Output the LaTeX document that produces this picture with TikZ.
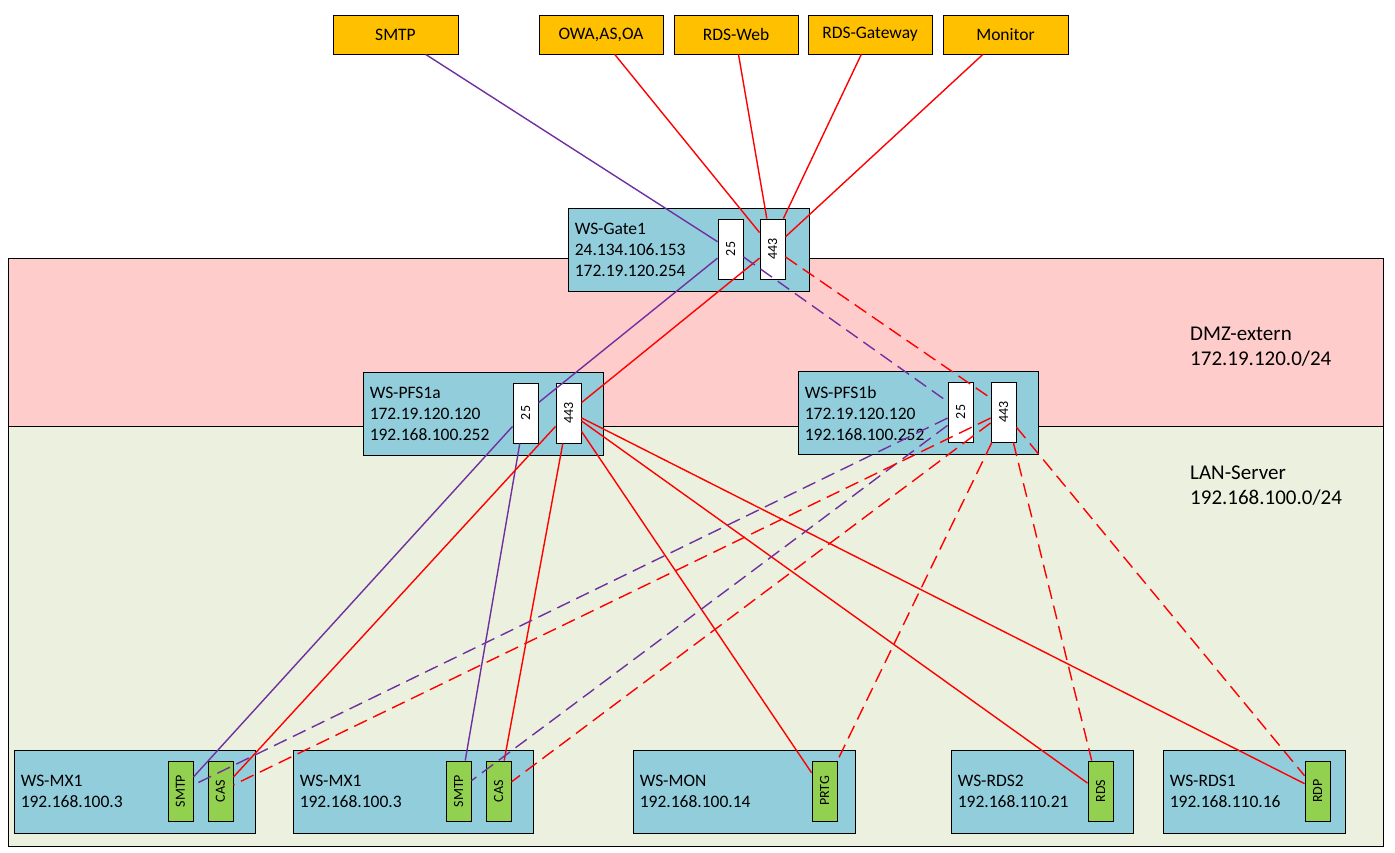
\documentclass[tikz,border=0pt]{standalone}
\usepackage{fontspec}
\setmainfont{Carlito}
\usetikzlibrary{calc}
\definecolor{dmzpink}{RGB}{255,204,204}
\definecolor{langreen}{RGB}{235,241,222}
\definecolor{hostblue}{RGB}{146,205,220}
\definecolor{svcgreen}{RGB}{146,208,80}
\definecolor{extorange}{RGB}{255,192,0}
\definecolor{linkpurple}{RGB}{112,48,160}
\definecolor{linkred}{RGB}{255,0,0}

\begin{document}
\begin{tikzpicture}[x=1pt,y=-1pt,
		host/.style={draw=black, line width=0.9pt, fill=hostblue, minimum height=83pt, inner sep=0pt},
		hostlbl/.style={anchor=west, align=left, inner xsep=7pt, inner ysep=0pt, font=\fontsize{17.5}{21}\selectfont},
		port/.style={draw=black, line width=0.9pt, fill=white, minimum width=25pt, minimum height=60pt, inner sep=0pt, font=\fontsize{14}{14}\selectfont},
		svc/.style={port, fill=svcgreen},
		ext/.style={draw=black, line width=0.9pt, fill=extorange, minimum width=125pt, minimum height=39pt, inner sep=0pt, font=\fontsize{17.5}{21}\selectfont},
		zonelbl/.style={anchor=west, align=left, inner sep=0pt, font=\fontsize{21}{25}\selectfont},
		mail/.style={draw=linkpurple, line width=1.4pt},
		web/.style={draw=linkred, line width=1.4pt},
		standby/.style={dash pattern=on 14pt off 7pt}
	]
		%%%%% START %%%%%
		
		\fill[white] (0,0) rectangle (1395,853);
		\useasboundingbox (0,0) rectangle (1395,853);
		
		% zones
		\draw[fill=dmzpink, line width=0.9pt] (8,258) rectangle (1383,426);
		\draw[fill=langreen, line width=0.9pt] (8,426) rectangle (1383,846);
		\node[zonelbl] (dmz) at (1190,347) {DMZ-extern\\172.19.120.0/24};
		\node[zonelbl] (lan) at (1190,486) {LAN-Server\\192.168.100.0/24};
		
		% services outside
		\node[ext] (tsmtp) at (395.5,34.5) {SMTP};
		\node[ext, minimum width=124pt] (towa) at (601,34.5) {OWA,AS,OA};
		\node[ext, minimum width=124pt] (tweb) at (736,34.5) {RDS-Web};
		\node[ext, minimum width=124pt] (tgw) at (870,34.5) {RDS-Gateway};
		\node[ext] (tmon) at (1005.5,34.5) {Monitor};
		
		% gateway
		\node[host, minimum width=241pt] (gate) at (688.5,249.5) {};
		\node[hostlbl] at (gate.west) {WS-Gate1\\24.134.106.153\\172.19.120.254};
		\node[port] (g25) at (730.5,249) {\rotatebox{90}{25}};
		\node[port] (g443) at (772.5,249) {\rotatebox{90}{443}};
		
		% proxies
		\node[host, minimum width=240pt] (pfsa) at (483,413.5) {};
		\node[hostlbl] at (pfsa.west) {WS-PFS1a\\172.19.120.120\\192.168.100.252};
		\node[port] (a25) at (525.5,413) {\rotatebox{90}{25}};
		\node[port] (a443) at (568.5,413) {\rotatebox{90}{443}};
		
		\node[host, minimum width=240pt] (pfsb) at (918,413) {};
		\node[hostlbl] at (pfsb.west) {WS-PFS1b\\172.19.120.120\\192.168.100.252};
		\node[port] (b25) at (960.5,412) {\rotatebox{90}{25}};
		\node[port] (b443) at (1003.5,412) {\rotatebox{90}{443}};
		
		% servers
		\node[host, minimum width=241pt] (mxa) at (134.5,791.5) {};
		\node[hostlbl] at (mxa.west) {WS-MX1\\192.168.100.3};
		\node[svc] (mxasmtp) at (180.5,791) {\rotatebox{90}{SMTP}};
		\node[svc] (mxacas) at (220.5,791) {\rotatebox{90}{CAS}};
		
		\node[host, minimum width=240pt] (mxb) at (413,791.5) {};
		\node[hostlbl] at (mxb.west) {WS-MX1\\192.168.100.3};
		\node[svc] (mxbsmtp) at (458.5,791) {\rotatebox{90}{SMTP}};
		\node[svc] (mxbcas) at (498.5,791) {\rotatebox{90}{CAS}};
		
		\node[host, minimum width=222pt] (mon) at (744,791.5) {};
		\node[hostlbl] at (mon.west) {WS-MON\\192.168.100.14};
		\node[svc] (prtg) at (824.5,791) {\rotatebox{90}{PRTG}};
		
		\node[host, minimum width=182pt] (rdstwo) at (1042,791.5) {};
		\node[hostlbl] at (rdstwo.west) {WS-RDS2\\192.168.110.21};
		\node[svc] (rds) at (1100.5,791) {\rotatebox{90}{RDS}};
		
		\node[host, minimum width=182pt] (rdsone) at (1254,791.5) {};
		\node[hostlbl] at (rdsone.west) {WS-RDS1\\192.168.110.16};
		\node[svc] (rdp) at (1317.5,791) {\rotatebox{90}{RDP}};
		
		% mail, active
		\draw[mail] ($(tsmtp.south west)!0.74!(tsmtp.south east)$) -- ($(g25.north west)!0.38!(g25.south west)$);
		\draw[mail] ($(g25.north west)!0.65!(g25.south west)$) -- ($(a25.north east)!0.33!(a25.south east)$);
		\draw[mail] ($(a25.north west)!0.72!(a25.south west)$) -- ($(mxasmtp.north east)!0.27!(mxasmtp.south east)$);
		\draw[mail] ($(a25.south west)!0.28!(a25.south east)$) -- ($(mxbsmtp.north west)!0.76!(mxbsmtp.north east)$);
		
		% web, active
		\draw[web] ($(towa.south west)!0.61!(towa.south east)$) -- ($(g443.north west)!0.23!(g443.south west)$);
		\draw[web] ($(tweb.south west)!0.52!(tweb.south east)$) -- ($(g443.north west)!0.28!(g443.north east)$);
		\draw[web] ($(tgw.south west)!0.43!(tgw.south east)$) -- ($(g443.north west)!0.92!(g443.north east)$);
		\draw[web] ($(tmon.south west)!0.32!(tmon.south east)$) -- ($(g443.north east)!0.30!(g443.south east)$);
		\draw[web] ($(g443.north west)!0.65!(g443.south west)$) -- ($(a443.north east)!0.33!(a443.south east)$);
		\draw[web] ($(a443.north west)!0.72!(a443.south west)$) -- ($(mxacas.north east)!0.27!(mxacas.south east)$);
		\draw[web] ($(a443.south west)!0.28!(a443.south east)$) -- ($(mxbcas.north west)!0.72!(mxbcas.north east)$);
		\draw[web] ($(a443.north east)!0.80!(a443.south east)$) -- ($(prtg.north west)!0.20!(prtg.south west)$);
		\draw[web] ($(a443.north east)!0.63!(a443.south east)$) -- ($(rds.north west)!0.37!(rds.south west)$);
		\draw[web] ($(a443.north east)!0.58!(a443.south east)$) -- ($(rdp.north west)!0.38!(rdp.south west)$);
		
		% mail, standby
		\draw[mail, standby] ($(g25.north east)!0.63!(g25.south east)$) -- ($(b25.north west)!0.33!(b25.south west)$);
		\draw[mail, standby] ($(b25.north west)!0.60!(b25.south west)$) -- ($(mxasmtp.north east)!0.40!(mxasmtp.south east)$);
		\draw[mail, standby] ($(b25.north west)!0.72!(b25.south west)$) -- ($(mxbsmtp.north east)!0.33!(mxbsmtp.south east)$);
		
		% web, standby
		\draw[web, standby] ($(g443.north east)!0.63!(g443.south east)$) -- ($(b443.north west)!0.27!(b443.south west)$);
		\draw[web, standby] ($(b443.north west)!0.60!(b443.south west)$) -- ($(mxacas.north east)!0.40!(mxacas.south east)$);
		\draw[web, standby] ($(b443.north west)!0.68!(b443.south west)$) -- ($(mxbcas.north east)!0.35!(mxbcas.south east)$);
		\draw[web, standby] ($(b443.south west)!0.05!(b443.south east)$) -- (prtg.north east);
		\draw[web, standby] ($(b443.south west)!0.88!(b443.south east)$) -- ($(rds.north west)!0.16!(rds.north east)$);
		\draw[web, standby] ($(b443.north east)!0.75!(b443.south east)$) -- ($(rdp.north west)!0.25!(rdp.south west)$);
		
		%%%%% END %%%%%
	\end{tikzpicture}
\end{document}
